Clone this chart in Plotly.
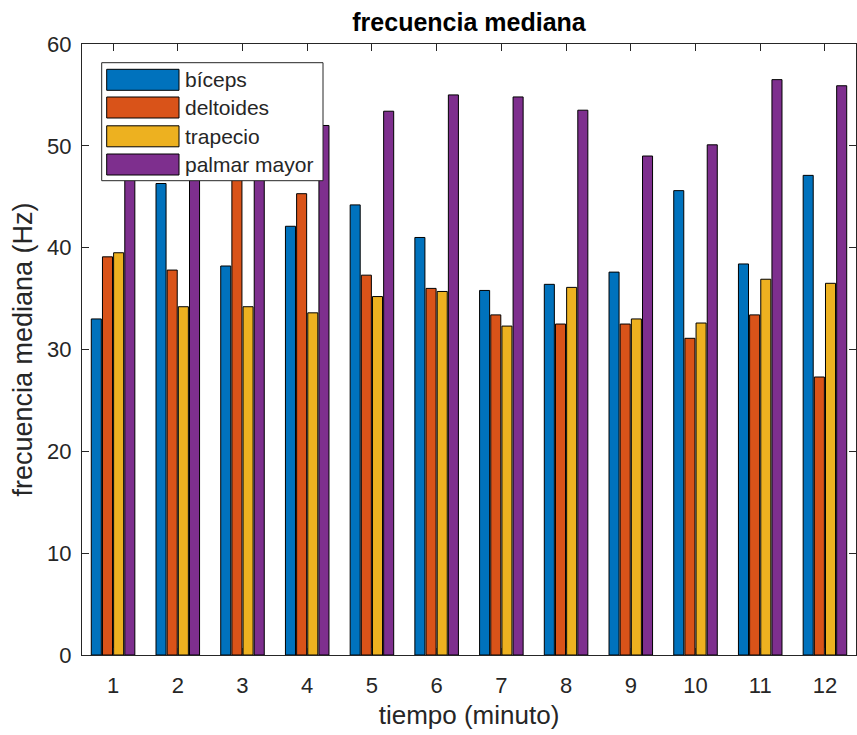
import plotly.graph_objects as go

minutes = [1, 2, 3, 4, 5, 6, 7, 8, 9, 10, 11, 12]
series_names = ["bíceps", "deltoides", "trapecio", "palmar mayor"]
biceps = [33.0, 46.3, 38.2, 42.1, 44.2, 41.0, 35.8, 36.4, 37.6, 45.6, 38.4, 47.1]
deltoides = [39.1, 37.8, 48.0, 45.3, 37.3, 36.0, 33.4, 32.5, 32.5, 31.1, 33.4, 27.3]
trapecio = [39.5, 34.2, 34.2, 33.6, 35.2, 35.7, 32.3, 36.1, 33.0, 32.6, 36.9, 36.5]
palmar_mayor = [48.5, 49.5, 50.0, 52.0, 53.4, 55.0, 54.8, 53.5, 49.0, 50.1, 56.5, 55.9]
colors = ["#0072BD", "#D95319", "#EDB120", "#7E2F8E"]
series_values = [biceps, deltoides, trapecio, palmar_mayor]

W, H = 857, 735
L, R, T, B = 82, 1, 44, 80
pw, ph = W - L - R, H - T - B

def px_x(x):
    return (x - L) / pw

def px_y(y):
    return (H - B - y) / ph

FONT = "Liberation Sans, Arial, sans-serif"
AX = "#262626"

fig = go.Figure()
for name, vals, col in zip(series_names, series_values, colors):
    fig.add_trace(go.Bar(x=minutes, y=vals, name=name, marker_color=col,
                         marker_line_color="#000000", marker_line_width=1,
                         showlegend=False))

# manual legend (MATLAB style)
shapes = [dict(type="rect", xref="paper", yref="paper",
               x0=px_x(101.7), x1=px_x(323), y0=px_y(180.7), y1=px_y(62.7),
               fillcolor="white", line=dict(color=AX, width=1), layer="above")]
annotations = []
row_centers = [79.8, 107.5, 136.3, 164.5]
for name, col, yc in zip(series_names, colors, row_centers):
    shapes.append(dict(type="rect", xref="paper", yref="paper",
                       x0=px_x(106.7), x1=px_x(179), y0=px_y(yc + 10.5), y1=px_y(yc - 10.5),
                       fillcolor=col, line=dict(color="#000000", width=1), layer="above"))
    annotations.append(dict(xref="paper", yref="paper", x=px_x(183), y=px_y(yc),
                            xanchor="left", yanchor="middle", text=name, showarrow=False,
                            font=dict(family=FONT, size=21, color=AX)))

fig.update_layout(
    width=W, height=H,
    margin=dict(l=L, r=R, t=T, b=B),
    paper_bgcolor="white", plot_bgcolor="white",
    barmode="group", bargap=0.31, bargroupgap=0.1,
    title=dict(text="<b>frecuencia mediana</b>", x=469 / W,
               xanchor="center", y=1 - 22 / H, yanchor="middle",
               font=dict(family=FONT, size=25, color="#000000")),
    font=dict(family=FONT, size=22, color=AX),
    shapes=shapes, annotations=annotations,
)
fig.update_xaxes(range=[0.52, 12.48], tickvals=minutes, ticktext=[str(m) for m in minutes],
                 ticks="inside", ticklen=7, tickcolor=AX, showline=True, linecolor=AX,
                 linewidth=1, mirror="allticks", showgrid=False, zeroline=False,
                 ticklabelstandoff=11, tickfont=dict(size=22),
                 title=dict(text="tiempo (minuto)", font=dict(family=FONT, size=26, color=AX), standoff=8))
fig.update_yaxes(range=[0, 60], dtick=10, ticks="inside", ticklen=7, tickcolor=AX,
                 showline=True, linecolor=AX, linewidth=1, mirror="allticks",
                 showgrid=False, zeroline=False, ticklabelstandoff=5, tickfont=dict(size=22),
                 title=dict(text="frecuencia mediana (Hz)", font=dict(family=FONT, size=27, color=AX), standoff=6))

fig.write_html("out.html")
